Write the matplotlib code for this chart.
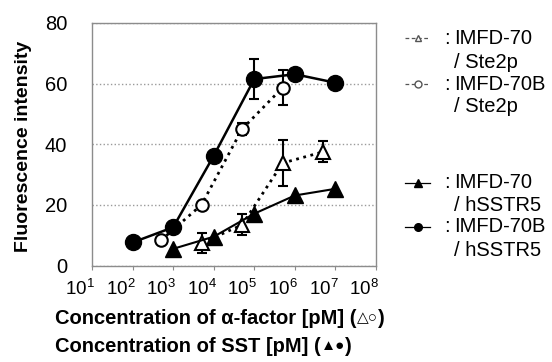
import numpy as np
import matplotlib
matplotlib.use("Agg")
from matplotlib import pyplot as plt
from matplotlib.lines import Line2D
from matplotlib.transforms import ScaledTranslation

plt.rcParams['font.family'] = ['Liberation Sans', 'DejaVu Sans']
plt.rcParams['mathtext.fontset'] = 'custom'
plt.rcParams['mathtext.rm'] = 'Liberation Sans'
plt.rcParams['mathtext.it'] = 'Liberation Sans:italic'
plt.rcParams['mathtext.bf'] = 'Liberation Sans:bold'

# data
x_70_ste2p = [5e3, 5e4, 5e5, 5e6]
y_70_ste2p = [7.4, 13.4, 33.8, 37.5]
e_70_ste2p = [3.3, 3.5, 7.7, 3.5]

x_70b_ste2p = [5e2, 5e3, 5e4, 5e5]
y_70b_ste2p = [8.3, 20.0, 45.0, 58.7]
e_70b_ste2p = [0.8, 1.0, 2.0, 5.8]

x_70_sstr5 = [1e3, 1e4, 1e5, 1e6, 1e7]
y_70_sstr5 = [5.5, 9.5, 17.1, 23.1, 25.3]

x_70b_sstr5 = [1e2, 1e3, 1e4, 1e5, 1e6, 1e7]
y_70b_sstr5 = [7.6, 12.6, 36.2, 61.5, 63.1, 60.3]
e_70b_sstr5 = [0, 0, 0, 6.5, 0, 0]

xticks = [1e1, 1e2, 1e3, 1e4, 1e5, 1e6, 1e7, 1e8]
xticklabels = ['$10^{%d}$' % i for i in range(1, 9)]
yticks = [0, 20, 40, 60, 80]

legend_names = [('IMFD-70', '/ Ste2p'), ('IMFD-70B', '/ Ste2p'),
                ('IMFD-70', '/ hSSTR5'), ('IMFD-70B', '/ hSSTR5')]

W, H = 552, 362
def fx(x):
    return x / W
def fy(y):
    return 1 - y / H

fig = plt.figure(figsize=(W / 100, H / 100), dpi=100)
ax = fig.add_axes([fx(92), fy(265.5), (376 - 92) / W, (265.5 - 23) / H])

grey = '#8c8c8c'
ax.errorbar(x_70_ste2p, y_70_ste2p, yerr=e_70_ste2p, color='black', ls=':', lw=2,
            marker='^', ms=10, mfc='white', mec='black', mew=1.5,
            ecolor='black', elinewidth=1.5, capsize=3.5, capthick=1.5, zorder=3)
ax.errorbar(x_70b_ste2p, y_70b_ste2p, yerr=e_70b_ste2p, color='black', ls=':', lw=2,
            marker='o', ms=9, mfc='white', mec='black', mew=1.5,
            ecolor='black', elinewidth=1.5, capsize=3.5, capthick=1.5, zorder=3)
ax.plot(x_70_sstr5, y_70_sstr5, color='black', lw=1.5, marker='^', ms=11, zorder=4)
ax.errorbar(x_70b_sstr5, y_70b_sstr5, yerr=e_70b_sstr5, color='black', lw=1.8,
            marker='o', ms=11.5, ecolor='black', elinewidth=1.5,
            capsize=3.5, capthick=1.5, zorder=4)

ax.set_xscale('log')
ax.set_xlim(1e1, 1e8)
ax.set_ylim(0, 80)
ax.set_xticks(xticks)
ax.set_xticklabels(xticklabels, fontsize=13.5)
ax.set_yticks(yticks)
ax.set_yticklabels([str(v) for v in yticks], fontsize=14.5)
ax.tick_params(axis='y', length=0, pad=18)
ax.tick_params(axis='x', which='major', length=3, color=grey, pad=7)
ax.tick_params(axis='x', which='minor', length=2, color=grey)
shift = ScaledTranslation(-12 / 100, 0, fig.dpi_scale_trans)
for lab in ax.get_xticklabels():
    lab.set_transform(lab.get_transform() + shift)

for s in ax.spines.values():
    s.set_color(grey)
    s.set_linewidth(1)
ax.yaxis.grid(True, color='#9a9a9a', ls=':', lw=1)
ax.set_axisbelow(True)

fig.text(fx(24), fy(146), 'Fluorescence intensity', rotation=90, fontsize=14,
         fontweight='bold', ha='center', va='center')

# x axis title on two lines, with small marker symbols
def title_line(y, text, symbols):
    t1 = fig.text(fx(55), fy(y), text + ' (', fontsize=14.5, fontweight='bold',
                  va='center', ha='left')
    t2 = ax.annotate(symbols, xy=(1, 0.5), xycoords=t1, fontsize=11,
                     fontweight='bold', va='center', ha='left',
                     annotation_clip=False)
    ax.annotate(')', xy=(1, 0.5), xycoords=t2, fontsize=14.5, fontweight='bold',
                va='center', ha='left', annotation_clip=False)

title_line(318, 'Concentration of α-factor [pM]', '△○')
title_line(346, 'Concentration of SST [pM]', '▲●')

# legend drawn by hand outside the axes
handle_styles = [
    dict(ls=(0, (3, 2)), marker='^', mfc='white', ms=5, color='#555555'),
    dict(ls=(0, (3, 2)), marker='o', mfc='white', ms=5, color='#555555'),
    dict(ls='-', marker='^', mfc='black', ms=5.5, color='black'),
    dict(ls='-', marker='o', mfc='black', ms=5.5, color='black'),
]
rows = [(38, 62), (84, 107), (183, 205), (227, 250)]
for (name, sub), (y1, y2), st in zip(legend_names, rows, handle_styles):
    fig.add_artist(Line2D([fx(405), fx(430)], [fy(y1), fy(y1)],
                          transform=fig.transFigure, ls=st['ls'], lw=0.9,
                          color=st['color']))
    fig.add_artist(Line2D([fx(417.5)], [fy(y1)], transform=fig.transFigure,
                          ls='none', marker=st['marker'], ms=st['ms'], mfc=st['mfc'],
                          mec=st['color'], mew=1))
    fig.text(fx(444), fy(y1), ':', fontsize=14.5, va='center', ha='left')
    fig.text(fx(454), fy(y1), name, fontsize=14.5, va='center', ha='left')
    fig.text(fx(454), fy(y2), sub, fontsize=14.5, va='center', ha='left')

fig.savefig('out.png', dpi=100)
